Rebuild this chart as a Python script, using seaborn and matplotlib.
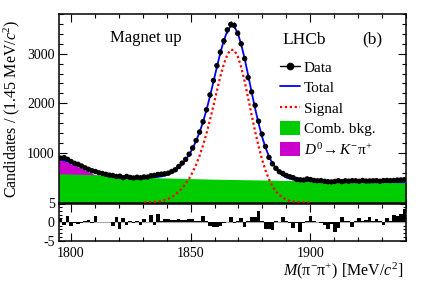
import numpy as np
import pandas as pd
import seaborn as sns
import matplotlib
matplotlib.use("Agg")
import matplotlib.pyplot as plt
from matplotlib.lines import Line2D
from matplotlib.patches import Patch
from matplotlib.ticker import MultipleLocator

# binning of the M(pi- pi+) histogram
bin_lo, bin_w, n_bins = 1795.0, 1.45, 100

counts = [895, 905, 870, 825, 790, 770, 735, 700, 670, 640,
          625, 600, 585, 568, 552, 545, 525, 530, 500, 525,
          505, 495, 510, 498, 515, 512, 540, 548, 565, 572,
          580, 592, 625, 660, 725, 795, 870, 975, 1100, 1250,
          1420, 1630, 1870, 2170, 2460, 2760, 3030, 3260, 3480, 3590,
          3570, 3410, 3200, 2900, 2520, 2230, 1960, 1640, 1380, 1130,
          910, 780, 690, 620, 585, 545, 520, 500, 465, 458,
          452, 476, 462, 445, 438, 442, 428, 420, 415, 425,
          440, 420, 438, 430, 440, 438, 428, 445, 432, 435,
          438, 440, 428, 442, 445, 440, 445, 452, 455, 460]

total = [868, 845, 822, 801, 780, 757, 733, 708, 683, 657,
         631, 606, 584, 566, 552, 541, 532, 525, 519, 514,
         510, 507, 504, 502, 501, 502, 505, 510, 516, 526,
         542, 566, 599, 645, 703, 773, 860, 962, 1090, 1240,
         1415, 1625, 1865, 2140, 2430, 2730, 3020, 3265, 3455, 3560,
         3550, 3415, 3190, 2900, 2570, 2230, 1900, 1600, 1330, 1110,
         930, 790, 685, 610, 545, 505, 482, 464, 452, 444,
         439, 437, 436, 434, 433, 432, 431, 430, 429, 428,
         427, 426, 425, 424, 423, 422, 421, 420, 419, 418,
         417, 416, 415, 414, 413, 412, 411, 410, 409, 408]

signal = [np.nan] * 24 + [
    0, 2, 5, 10, 18, 30, 50, 75, 110, 160,
    220, 290, 380, 480, 610, 760, 940, 1150, 1390, 1660,
    1950, 2250, 2540, 2790, 2980, 3080, 3070, 2950, 2730, 2440,
    2110, 1770, 1440, 1140, 870, 650, 470, 330, 225, 150,
    95, 60, 36, 20, 10, 5, 2, 0, 0] + [np.nan] * 27

pulls = [0.9, -0.7, 1.6, -1.2, -0.4, -0.6, -0.3, 0.2, 0.5, -0.2,
         1.6, 0.1, 0.0, 0.1, -0.1, -1.1, 1.3, -1.8, 1.1, -0.9,
         0.3, -0.4, 0.2, -0.7, 0.7, 0.1, 1.8, -0.7, 2.2, 0.4,
         0.9, 0.9, 0.6, 0.5, 0.7, 0.6, 0.5, 0.7, 0.7, 0.3,
         0.2, 1.6, 0.2, -1.0, -1.3, -1.4, -1.2, -0.2, 0.1, 1.3,
         -0.3, 0.4, 1.1, -1.3, 0.2, 1.3, 1.3, 2.9, 0.3, -1.8,
         -1.8, -2.1, 0.2, 0.1, 1.3, 0.3, -0.3, -1.6, -0.4, -2.7,
         -0.2, 0.2, 1.6, 0.3, 0.1, -0.3, -0.9, -1.8, -0.6, -2.7,
         -1.5, 1.3, 0.3, 0.2, -1.3, 0.2, 1.1, 0.3, 0.6, 1.3,
         0.2, 0.7, 0.3, -0.9, 1.1, 0.4, 1.8, 1.5, 2.2, 3.5]

# background components (upper edge of the filled areas)
comb_mass = [1795, 1810, 1820, 1835, 1860, 1890, 1940]
comb_top = [580, 560, 530, 500, 470, 445, 405]
misid_mass = [1795, 1802, 1806, 1810, 1813]
misid_top = [880, 740, 655, 560, 520]

sns.set_style("ticks")
plt.rcParams['font.family'] = ['Liberation Serif', 'DejaVu Serif']
plt.rcParams['mathtext.fontset'] = 'custom'
plt.rcParams['mathtext.rm'] = 'Liberation Serif'
plt.rcParams['mathtext.it'] = 'Liberation Serif:italic'
plt.rcParams['axes.unicode_minus'] = False
for key in ['text.color', 'axes.labelcolor', 'axes.edgecolor',
            'xtick.color', 'ytick.color']:
    plt.rcParams[key] = 'black'

centres = bin_lo + bin_w * (np.arange(n_bins) + 0.5)
df = pd.DataFrame({'mass': centres, 'counts': counts, 'total': total,
                   'signal': signal, 'pull': pulls})

W, H = 427, 290
fig = plt.figure(figsize=(W / 100, H / 100), dpi=100)
ax = fig.add_axes([59 / W, 1 - 202.5 / H, (406 - 59) / W, (202.5 - 14) / H])
axr = fig.add_axes([59 / W, 1 - 240.5 / H, (406 - 59) / W, (240.5 - 203.5) / H], sharex=ax)

green = '#00cc00'
magenta = '#cc00cc'
ax.fill_between(misid_mass, 0, misid_top, color=magenta, lw=0, zorder=1)
ax.fill_between(comb_mass, 0, comb_top, color=green, lw=0, zorder=2)

sns.lineplot(data=df.dropna(), x='mass', y='signal', ax=ax, color='red',
             lw=1.6, ls=(0, (1, 1.2)), zorder=3)
sns.lineplot(data=df, x='mass', y='total', ax=ax, color='blue', lw=1.3, zorder=4)
ax.errorbar(df['mass'], df['counts'], yerr=np.sqrt(df['counts']), xerr=bin_w / 2,
            fmt='none', ecolor='black', elinewidth=1, zorder=5)
sns.scatterplot(data=df, x='mass', y='counts', ax=ax, color='black', s=15,
                edgecolor='none', zorder=6)

axr.bar(df['mass'], df['pull'], width=bin_w, color='black', lw=0, zorder=3)
axr.axhline(0, color='0.65', lw=0.8, zorder=2)

for a in (ax, axr):
    a.set_xlabel('')
    a.set_ylabel('')
    for s in a.spines.values():
        s.set_linewidth(1.1)
        s.set_color('black')
        s.set_visible(True)
    a.tick_params(which='both', direction='in', top=True, right=True,
                  width=0.8, labelsize=10, pad=3, colors='black')
    a.tick_params(which='major', length=6)
    a.tick_params(which='minor', length=3)

ax.set_xlim(1795, 1940)
ax.xaxis.set_major_locator(MultipleLocator(50))
ax.xaxis.set_minor_locator(MultipleLocator(10))
ax.set_ylim(0, 3800)
ax.set_yticks([1000, 2000, 3000])
ax.yaxis.set_minor_locator(MultipleLocator(200))
ax.tick_params(labelbottom=False)

axr.set_ylim(-5, 5)
axr.set_yticks([-5, 0, 5])
axr.yaxis.set_minor_locator(MultipleLocator(1))
axr.tick_params(axis='x', which='major', pad=5)
axr.tick_params(axis='y', which='major', length=4)
axr.tick_params(axis='y', which='minor', length=2)

fig.text(146 / W, 1 - 38.5 / H, 'Magnet up', ha='center', va='center', fontsize=12)
fig.text(282 / W, 1 - 39.5 / H, 'LHCb', ha='left', va='center', fontsize=12.5)
fig.text(372 / W, 1 - 39.5 / H, '(b)', ha='center', va='center', fontsize=12.5)
fig.text(12 / W, 1 - 109 / H, r'Candidates / (1.45 MeV/$c^{2}$)', rotation=90,
         ha='center', va='center', fontsize=11.5)
fig.text(404 / W, 1 - 270.5 / H, r'$M(\mathrm{\pi}^{-}\mathrm{\pi}^{+})$ [MeV/$c^{2}$]',
         ha='right', va='center', fontsize=11.5)

handles = [Line2D([], [], color='black', marker='o', ms=4.5, lw=1),
           Line2D([], [], color='blue', lw=1.3),
           Line2D([], [], color='red', lw=1.6, ls=(0, (1, 1.2))),
           Patch(facecolor=green, lw=0),
           Patch(facecolor=magenta, lw=0)]
labels = ['Data', 'Total', 'Signal', 'Comb. bkg.',
          r'$D^{0}\!\rightarrow K^{-}\mathrm{\pi}^{+}$']
fig.legend(handles, labels, loc='upper left', bbox_to_anchor=(280 / W, 1 - 60 / H),
           frameon=False, fontsize=11, handlelength=1.3, handleheight=1.0,
           handletextpad=0.25, labelspacing=0.35, borderpad=0, borderaxespad=0)

fig.savefig('out.png', dpi=100)
